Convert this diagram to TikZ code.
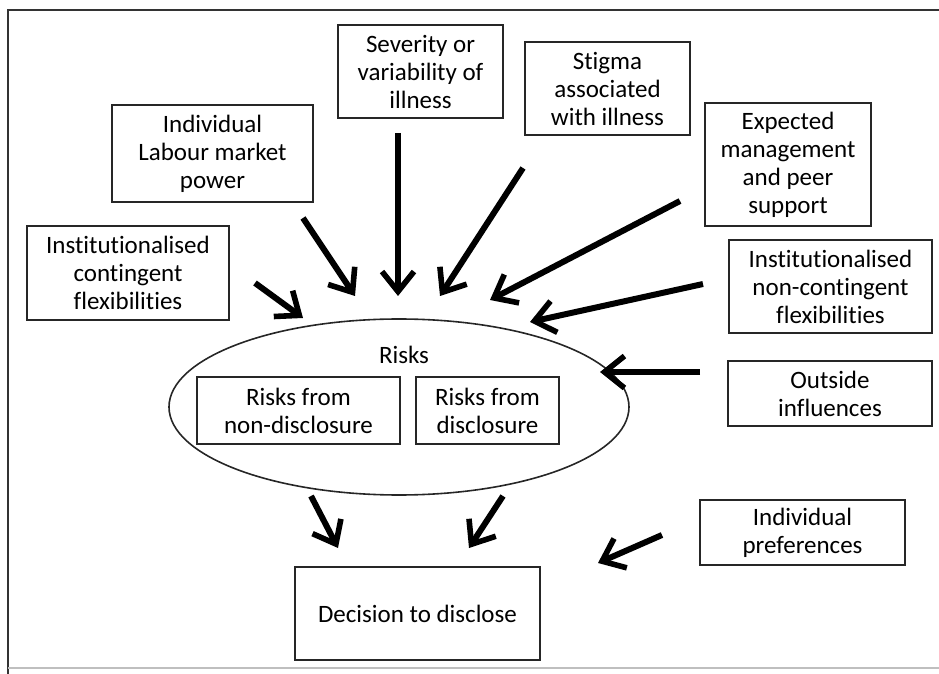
\documentclass[tikz,border=0pt]{standalone}
\usepackage{fontspec}
\setmainfont{Carlito}[Ligatures={NoCommon}]
\usepackage{tikz}
\usetikzlibrary{positioning, arrows.meta, shapes.geometric}

\tikzset{
    box/.style={draw=black!85, line width=0.8pt, align=center, inner sep=0pt,
        font=\fontsize{12.5}{14}\selectfont},
    push/.style={line width=3pt, -{Straight Barb[length=10pt, width=16pt, line width=2.8pt]}}
}

\begin{document}
\begin{tikzpicture}[x=0.5pt, y=-0.5pt]
    \useasboundingbox (0,0) rectangle (939,674);
    % frame
    \draw[black!80, line width=0.9pt] (8,674) -- (8,10) -- (939,10);
    \draw[black!25, line width=0.6pt] (8,668) -- (939,668);

    % factors
    \node[box, minimum width=82.5pt, minimum height=46.5pt] (sev) at (420.5,71.5) {Severity or\\variability of\\illness};
    \node[box, minimum width=82.5pt, minimum height=46.5pt] (stig) at (607.5,88.5) {Stigma\\associated\\with illness};
    \node[box, minimum width=100.5pt, minimum height=48.5pt] (labour) at (212.5,153.5) {Individual\\Labour market\\power};
    \node[box, minimum width=83pt, minimum height=61.5pt] (expect) at (788,164.5) {Expected\\management\\and peer\\support};
    \node[box, minimum width=101pt, minimum height=47pt] (contin) at (128,273) {Institutionalised\\contingent\\flexibilities};
    \node[box, minimum width=101.5pt, minimum height=46.5pt] (noncon) at (830.5,286.5) {Institutionalised\\non-contingent\\flexibilities};
    \node[box, minimum width=102pt, minimum height=32.5pt] (outside) at (830,393.5) {Outside\\influences};
    \node[box, minimum width=102.5pt, minimum height=32.5pt] (pref) at (802.5,532.5) {Individual\\preferences};

    % risks
    \node[draw=black!85, line width=0.8pt, ellipse, minimum width=230pt, minimum height=88pt] (risks) at (399,407) {};
    \node[font=\fontsize{12.5}{14}\selectfont] (risklab) at (404,355) {Risks};
    \node[box, minimum width=101.5pt, minimum height=33.5pt] (rnon) at (298.5,410.5) {Risks from\\non-disclosure};
    \node[box, minimum width=71.5pt, minimum height=33.5pt] (rdis) at (487.5,410.5) {Risks from\\disclosure};

    \node[box, minimum width=122.5pt, minimum height=46.5pt] (decide) at (417.5,613.5) {Decision to disclose};

    % arrow ends
    \coordinate (a1) at (303,218);  \coordinate (b1) at (355,296);
    \coordinate (a2) at (398,133);  \coordinate (b2) at (398,296);
    \coordinate (a3) at (523,168);  \coordinate (b3) at (440,296);
    \coordinate (a4) at (680,201);  \coordinate (b4) at (490,300);
    \coordinate (a5) at (703,284);  \coordinate (b5) at (530,322);
    \coordinate (a6) at (255,283);  \coordinate (b6) at (303,318);
    \coordinate (a7) at (700,372);  \coordinate (b7) at (600,372);
    \coordinate (a8) at (662,535);  \coordinate (b8) at (598,563);
    \coordinate (a9) at (311,496);  \coordinate (b9) at (338,548);
    \coordinate (a10) at (503,496); \coordinate (b10) at (469,548);

    \foreach \i in {1,2,...,10}
    {
    \draw[push] (a\i) -- (b\i);
    }
\end{tikzpicture}
\end{document}
